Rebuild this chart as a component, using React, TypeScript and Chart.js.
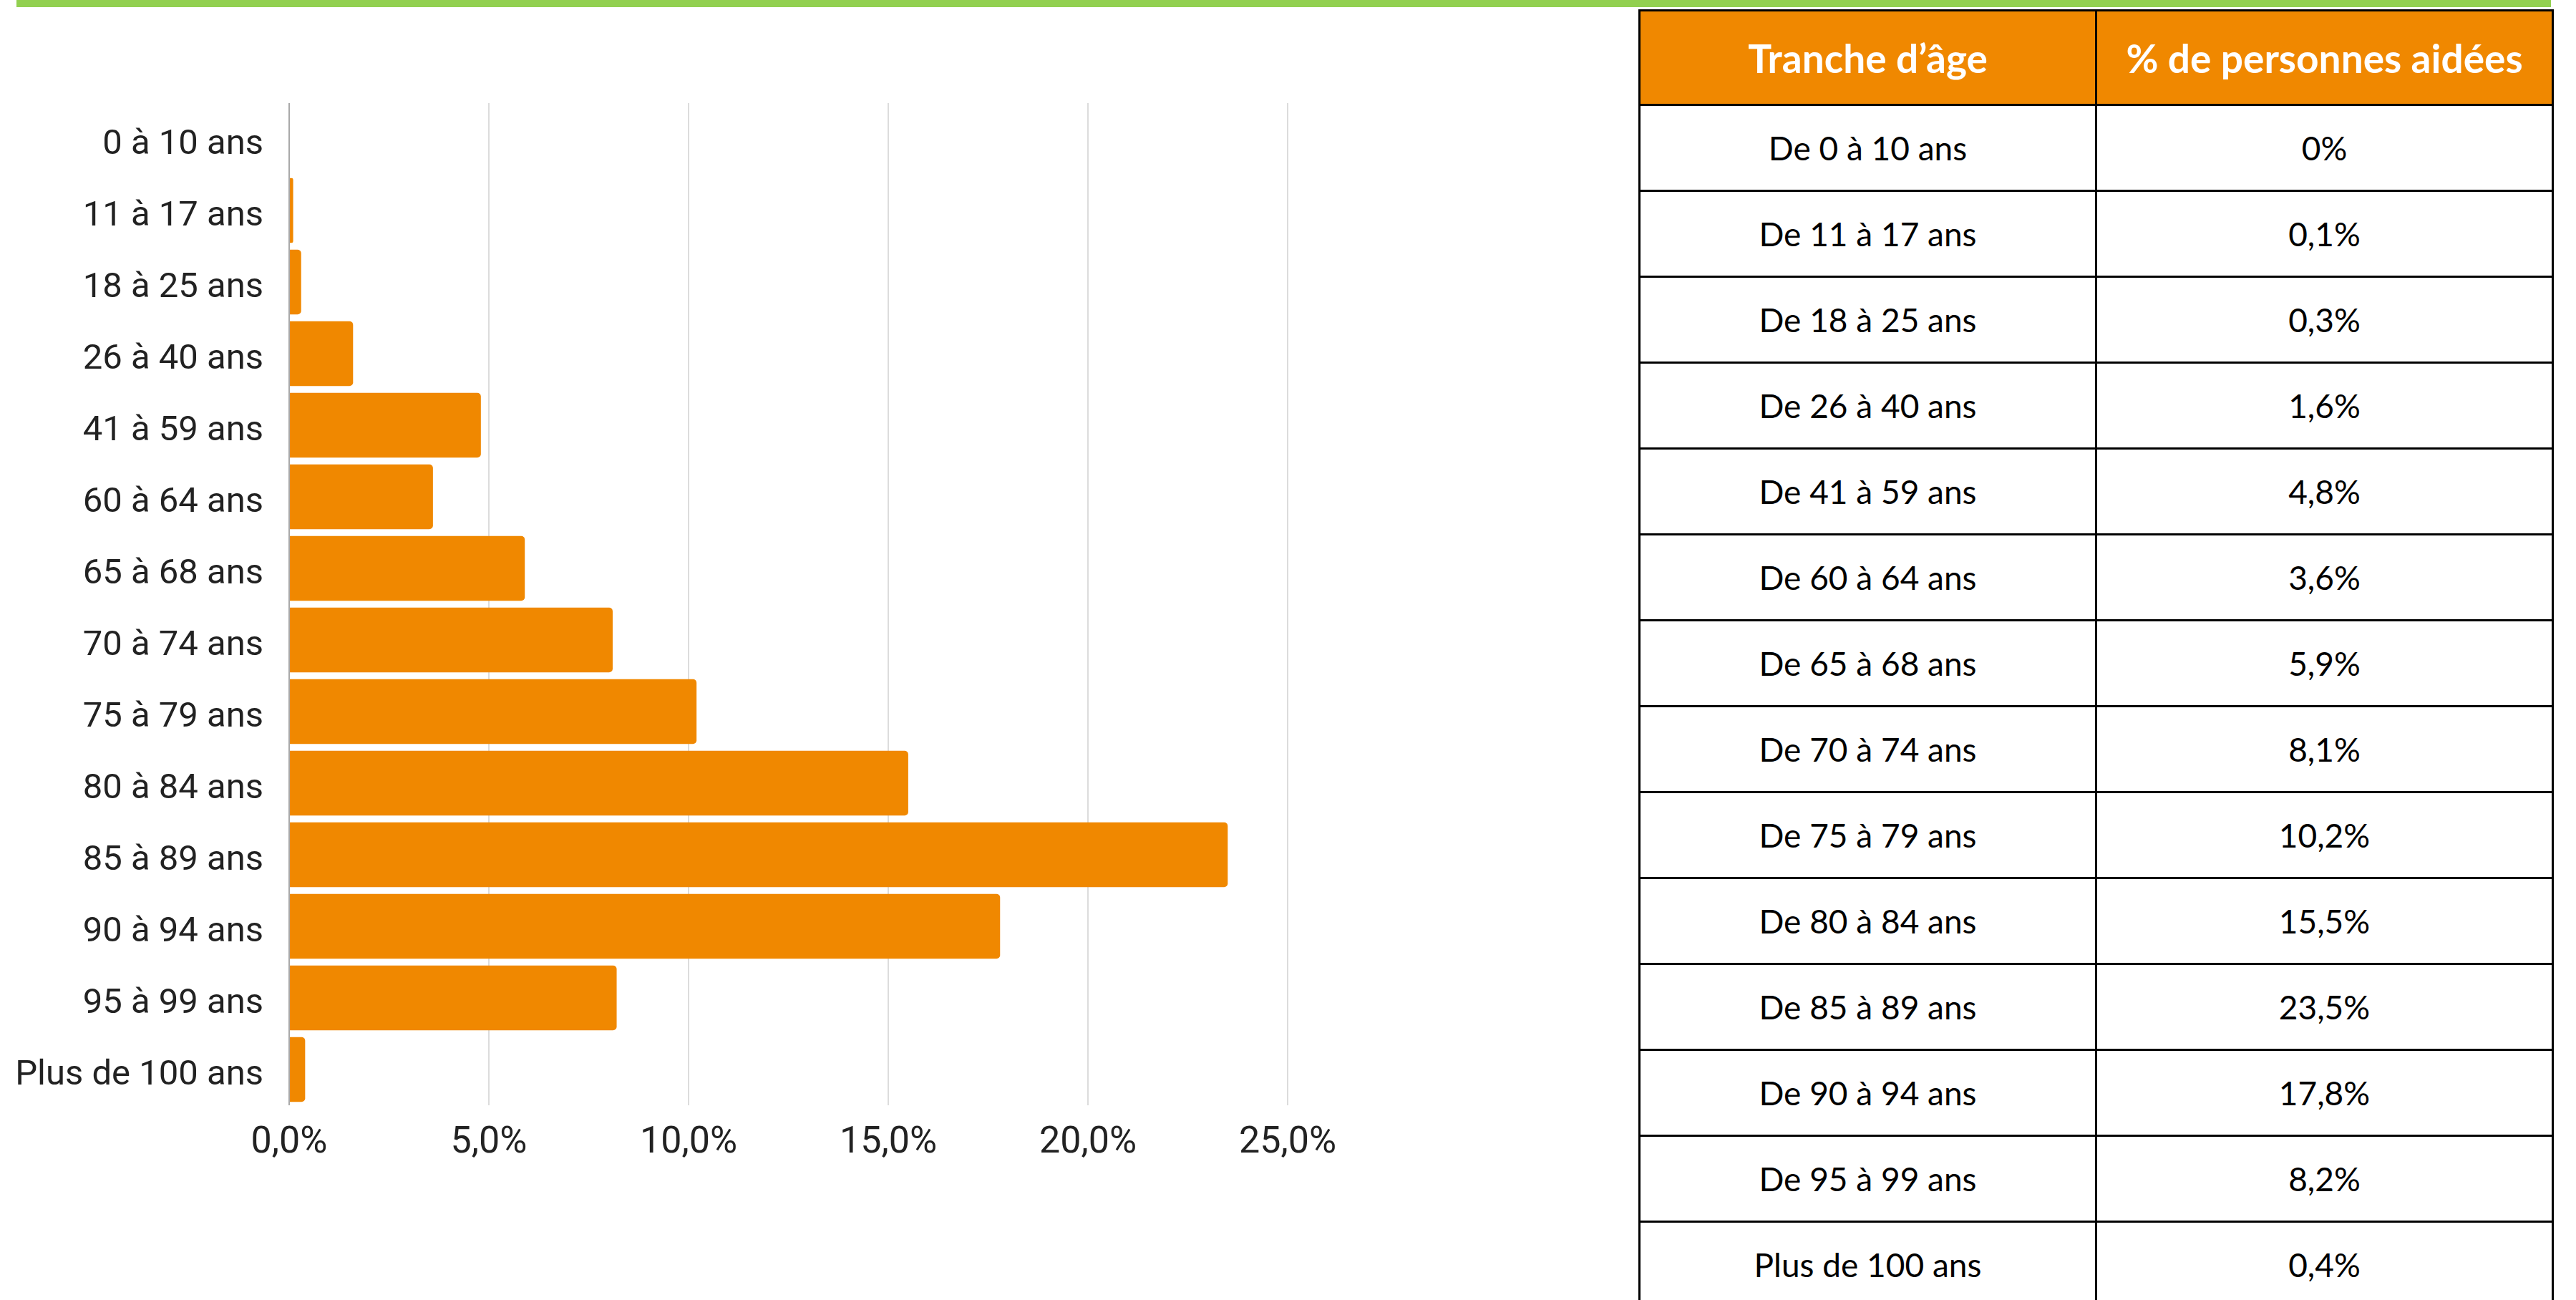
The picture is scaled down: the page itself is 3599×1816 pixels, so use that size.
import React, { useEffect, useRef } from 'react';
import { Chart, registerables } from 'chart.js';

Chart.register(...registerables);

// ---- data ----
const categories = [
  '0 à 10 ans',
  '11 à 17 ans',
  '18 à 25 ans',
  '26 à 40 ans',
  '41 à 59 ans',
  '60 à 64 ans',
  '65 à 68 ans',
  '70 à 74 ans',
  '75 à 79 ans',
  '80 à 84 ans',
  '85 à 89 ans',
  '90 à 94 ans',
  '95 à 99 ans',
  'Plus de 100 ans',
];

const values = [0, 0.1, 0.3, 1.6, 4.8, 3.6, 5.9, 8.1, 10.2, 15.5, 23.5, 17.8, 8.2, 0.4];

const xTicks = [0, 5, 10, 15, 20, 25];

const tableHeaders = ['Tranche d’âge', '% de personnes aidées'];

const tableCategories = [
  'De 0 à 10 ans',
  'De 11 à 17 ans',
  'De 18 à 25 ans',
  'De 26 à 40 ans',
  'De 41 à 59 ans',
  'De 60 à 64 ans',
  'De 65 à 68 ans',
  'De 70 à 74 ans',
  'De 75 à 79 ans',
  'De 80 à 84 ans',
  'De 85 à 89 ans',
  'De 90 à 94 ans',
  'De 95 à 99 ans',
  'Plus de 100 ans',
];

const tableValues = ['0%', '0,1%', '0,3%', '1,6%', '4,8%', '3,6%', '5,9%', '8,1%', '10,2%', '15,5%', '23,5%', '17,8%', '8,2%', '0,4%'];

// ---- styles ----
const ORANGE = '#F08800';
const GREEN = '#92D050';
const TEXT = '#222222';

function BarChart() {
  const ref = useRef<HTMLCanvasElement>(null);
  useEffect(() => {
    if (!ref.current) return;
    const chart = new Chart(ref.current, {
      type: 'bar',
      data: {
        labels: categories,
        datasets: [
          {
            data: values,
            backgroundColor: ORANGE,
            borderRadius: 5,
            borderSkipped: 'start',
            barPercentage: 0.905,
            categoryPercentage: 1,
          },
        ],
      },
      options: {
        indexAxis: 'y',
        responsive: true,
        maintainAspectRatio: false,
        animation: false,
        layout: { padding: { top: 144, right: 201, bottom: 0, left: 0 } },
        plugins: { legend: { display: false }, tooltip: { enabled: false } },
        scales: {
          x: {
            min: xTicks[0],
            max: xTicks[xTicks.length - 1],
            ticks: {
              stepSize: xTicks[1] - xTicks[0],
              padding: 22,
              color: TEXT,
              font: { family: 'Roboto', size: 52 },
              callback: (v: any) => Number(v).toFixed(1).replace('.', ',') + '%',
            },
            grid: {
              drawTicks: false,
              lineWidth: 2,
              color: (ctx: any) => (ctx.tick && ctx.tick.value === 0 ? '#a9a9a9' : '#dcdcdc'),
            },
            border: { display: false },
            afterFit: (s: any) => {
              s.height = 156;
            },
          },
          y: {
            ticks: {
              padding: 36,
              labelOffset: 9,
              autoSkip: false,
              color: TEXT,
              font: { family: 'Roboto', size: 49 },
            },
            grid: { display: false, drawTicks: false },
            border: { display: false },
            afterFit: (s: any) => {
              s.width = 404;
            },
          },
        },
      },
    });
    return () => chart.destroy();
  }, []);
  return (
    <div style={{ position: 'absolute', left: 0, top: 0, width: 2000, height: 1700 }}>
      <canvas ref={ref} />
    </div>
  );
}

function DataTable() {
  const cellBase: React.CSSProperties = {
    border: '3px solid #000',
    padding: 0,
    textAlign: 'center',
    verticalAlign: 'middle',
    width: '50%',
  };
  return (
    <table
      style={{
        position: 'absolute',
        left: 2289,
        top: 13,
        width: 1279,
        borderCollapse: 'collapse',
        tableLayout: 'fixed',
        fontFamily: 'Lato, sans-serif',
      }}
    >
      <thead>
        <tr>
          {tableHeaders.map((h) => (
            <th
              key={h}
              style={{
                ...cellBase,
                height: 129,
                background: ORANGE,
                color: '#fff',
                fontWeight: 700,
                fontSize: 55,
              }}
            >
              {h}
            </th>
          ))}
        </tr>
      </thead>
      <tbody>
        {tableCategories.map((c, i) => (
          <tr key={c}>
            <td style={{ ...cellBase, height: 117, fontSize: 46, color: '#000' }}>{c}</td>
            <td style={{ ...cellBase, height: 117, fontSize: 46, color: '#000' }}>{tableValues[i]}</td>
          </tr>
        ))}
      </tbody>
    </table>
  );
}

export default function App() {
  return (
    <div
      style={{
        position: 'absolute',
        left: 0,
        top: 0,
        width: 3599,
        height: 1816,
        overflow: 'hidden',
        background: '#fff',
      }}
    >
      <div style={{ position: 'absolute', left: 23, top: 0, width: 3541, height: 10, background: GREEN }} />
      <BarChart />
      <DataTable />
    </div>
  );
}
